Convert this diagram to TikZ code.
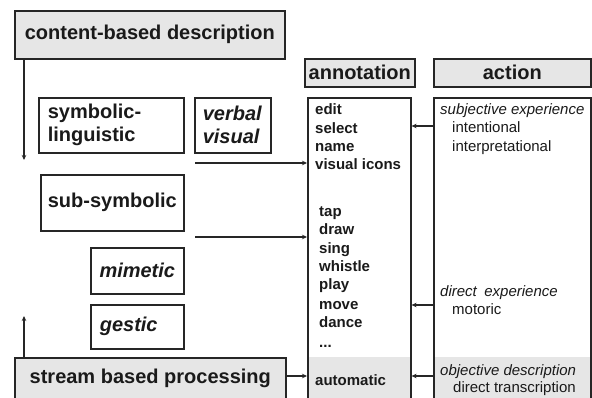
\documentclass[tikz,border=0pt]{standalone}
\usepackage{fontspec}
\setmainfont{Liberation Sans}
\usetikzlibrary{arrows.meta}
\definecolor{hdr}{HTML}{E6E6E6}
\definecolor{ln}{HTML}{262626}
\definecolor{txt}{HTML}{1A1A1A}
\begin{document}
\begin{tikzpicture}[x=1pt,y=-1pt,
  box/.style={draw=ln, line width=1.6pt, inner sep=0pt, anchor=north west, text=txt},
  big/.style={font=\fontsize{20}{23}\selectfont\bfseries},
  bigit/.style={font=\fontsize{20}{23}\selectfont\bfseries\itshape},
  hd/.style={box, fill=hdr},
  lst/.style={anchor=base west, inner sep=0pt, text=txt, font=\fontsize{15}{18}\selectfont\bfseries},
  act/.style={anchor=base west, inner sep=0pt, text=txt, font=\fontsize{15}{18}\selectfont\itshape},
  actr/.style={anchor=base west, inner sep=0pt, text=txt, font=\fontsize{15}{18}\selectfont},
  arr/.style={draw=ln, line width=1.5pt, -{Stealth[length=5pt,width=4.5pt]}}
]
\useasboundingbox (0,0) rectangle (592,398);
\fill[white] (0,0) rectangle (592,398);

% left column
\node[hd, big, minimum width=270, minimum height=48] (content) at (14,10) {content-based description};
\node[box, big, minimum width=145, minimum height=55, text width=127, align=left] (symb) at (38,97) {symbolic-\\linguistic};
\node[box, bigit, minimum width=76, minimum height=55, text width=60, align=left] (verbal) at (194,97) {verbal\\visual};
\node[box, big, minimum width=143, minimum height=56] (subsym) at (40,174) {sub-symbolic};
\node[box, bigit, minimum width=93, minimum height=46] (mimetic) at (90,247) {mimetic};
\node[box, bigit, minimum width=93, minimum height=44, text width=75, align=left] (gestic) at (90,304) {gestic};
\node[hd, big, minimum width=271, minimum height=42] (stream) at (14,357) {stream based processing};

% headers
\node[hd, big, minimum width=110, minimum height=28] (annh) at (304,58) {annotation};
\node[hd, big, minimum width=157, minimum height=28] (acth) at (433,58) {action};

% columns
\fill[hdr] (307,357) rectangle (410,420);
\fill[hdr] (433,357) rectangle (590,420);
\node[box, minimum width=103, minimum height=330] (ann) at (307,97) {};
\node[box, minimum width=157, minimum height=330] (act) at (433,97) {};

% annotation list
\node[lst] (t1) at (315,115) {edit};
\node[lst] (t2) at (315,134) {select};
\node[lst] (t3) at (315,152) {name};
\node[lst] (t4) at (315,170) {visual icons};
\node[lst] (t5) at (319,217) {tap};
\node[lst] (t6) at (319,235) {draw};
\node[lst] (t7) at (319,254) {sing};
\node[lst] (t8) at (319,272) {whistle};
\node[lst] (t9) at (319,290) {play};
\node[lst] (t10) at (319,309) {move};
\node[lst] (t11) at (319,327) {dance};
\node[lst] (t12) at (319,347) {...};
\node[lst] (t13) at (315,385) {automatic};

% action list
\node[act] (a1) at (440,115) {subjective experience};
\node[actr] (a2) at (452,133) {intentional};
\node[actr] (a3) at (452,152) {interpretational};
\node[act] (a4) at (440,297) {direct\enspace experience};
\node[actr] (a5) at (452,315) {motoric};
\node[act] (a6) at (440,375) {objective description};
\node[actr] (a7) at (453,392) {direct transcription};

% connectors
\coordinate (d1) at (24,160);
\draw[arr] (content.south -| d1) -- (d1);
\coordinate (u1) at (24,316);
\draw[arr] (stream.north -| u1) -- (u1);
\coordinate (s1) at (195,163);
\draw[arr] (s1) -- (s1 -| ann.west);
\coordinate (s2) at (195,237);
\draw[arr] (s2) -- (s2 -| ann.west);
\coordinate (s3) at (0,376);
\draw[arr] (stream.east |- s3) -- (ann.west |- s3);
\coordinate (r1) at (0,126);
\draw[arr] (act.west |- r1) -- (ann.east |- r1);
\coordinate (r2) at (0,305);
\draw[arr] (act.west |- r2) -- (ann.east |- r2);
\draw[arr] (act.west |- s3) -- (ann.east |- s3);
\end{tikzpicture}
\end{document}
